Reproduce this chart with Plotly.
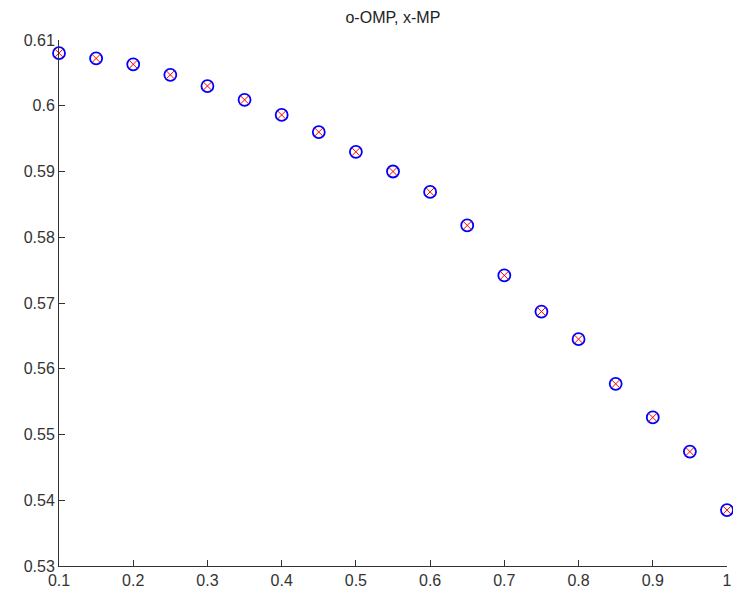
import plotly.graph_objects as go

x_vals = [0.1, 0.15, 0.2, 0.25, 0.3, 0.35, 0.4, 0.45, 0.5, 0.55, 0.6, 0.65, 0.7, 0.75, 0.8, 0.85, 0.9, 0.95, 1.0]
omp_vals = [0.6080, 0.6072, 0.6063, 0.6047, 0.6030, 0.6009, 0.5986, 0.5960, 0.5930, 0.5900, 0.5869, 0.5818, 0.5742, 0.5687, 0.5645, 0.5577, 0.5526, 0.5474, 0.5385]
mp_vals = [0.6080, 0.6072, 0.6063, 0.6047, 0.6030, 0.6009, 0.5986, 0.5960, 0.5930, 0.5900, 0.5869, 0.5818, 0.5742, 0.5687, 0.5645, 0.5577, 0.5526, 0.5474, 0.5385]
x_ticks = [0.1, 0.2, 0.3, 0.4, 0.5, 0.6, 0.7, 0.8, 0.9, 1.0]
x_tick_text = ["0.1", "0.2", "0.3", "0.4", "0.5", "0.6", "0.7", "0.8", "0.9", "1"]
y_ticks = [0.53, 0.54, 0.55, 0.56, 0.57, 0.58, 0.59, 0.60, 0.61]
y_tick_text = ["0.53", "0.54", "0.55", "0.56", "0.57", "0.58", "0.59", "0.6", "0.61"]

fig = go.Figure()
fig.add_trace(go.Scatter(x=x_vals, y=omp_vals, mode="markers", name="OMP",
                         marker=dict(symbol="circle-open", size=12, color="#0000ff", line=dict(width=1.8)),
                         cliponaxis=False))
fig.add_trace(go.Scatter(x=x_vals, y=mp_vals, mode="markers", name="MP",
                         marker=dict(symbol="x-thin-open", size=8, color="#ff0000", line=dict(width=1, color="#ff0000")),
                         cliponaxis=False))

axis_common = dict(showgrid=False, zeroline=False, showline=True, linecolor="#333333", linewidth=1,
                   ticks="inside", ticklen=6, tickcolor="#333333", mirror=False, automargin=False,
                   tickfont=dict(family="Liberation Sans, Arial, sans-serif", size=16, color="#333333"))
fig.update_layout(
    width=733, height=592,
    margin=dict(l=59, r=6, t=40, b=26),
    paper_bgcolor="white", plot_bgcolor="white",
    showlegend=False,
    title=dict(text="o-OMP, x-MP", x=0.536, xanchor="center", y=0.971, yanchor="middle",
               font=dict(family="Liberation Sans, Arial, sans-serif", size=16, color="#222222")),
    xaxis=dict(range=[0.1, 1.0], tickvals=x_ticks, ticktext=x_tick_text, **axis_common),
    yaxis=dict(range=[0.53, 0.61], tickvals=y_ticks, ticktext=y_tick_text, **axis_common),
)
fig.write_html("out.html")
